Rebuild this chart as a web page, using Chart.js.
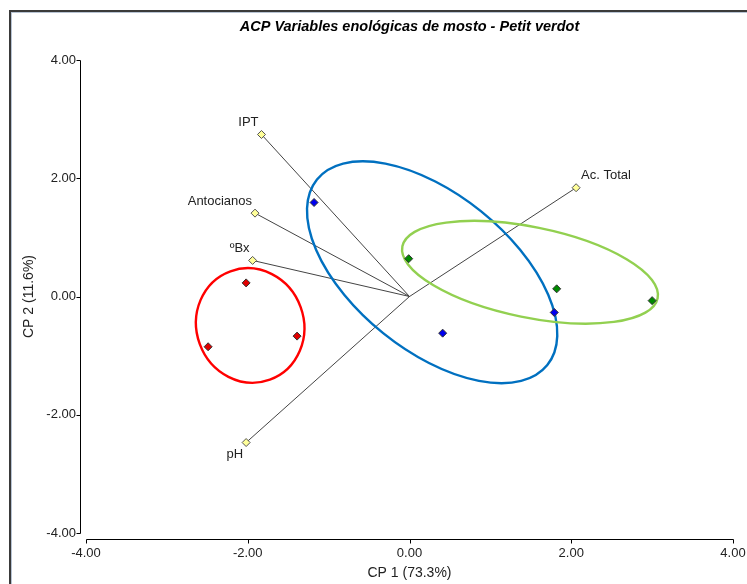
<!DOCTYPE html>
<html>
<head>
<meta charset="utf-8">
<script src="https://cdn.jsdelivr.net/npm/chart.js@4/dist/chart.umd.min.js"></script>
<style>
  html, body { margin: 0; padding: 0; background: #fff; }
  #wrap { width: 747px; height: 584px; position: relative; }
</style>
</head>
<body>
<div id="wrap"><canvas id="acp" width="747" height="584"></canvas></div>
<script>
// observaciones por grupo (CP 1, CP 2)
const rojoX = [-2.02, -2.49, -1.39];
const rojoY = [0.23, -0.85, -0.67];
const azulX = [-1.18, 1.79, 0.41];
const azulY = [1.59, -0.27, -0.62];
const verdeX = [-0.01, 1.82, 3.00];
const verdeY = [0.64, 0.13, -0.07];

// variables del biplot
const variables = ['IPT', 'Antocianos', 'ºBx', 'Ac. Total', 'pH'];
const varX = [-1.83, -1.91, -1.94, 2.06, -2.02];
const varY = [2.74, 1.41, 0.61, 1.84, -2.47];

// elipses (rojo, azul, verde): centro y dos semiejes conjugados, en unidades de CP
const elipseX = [-1.97, 0.28, 1.49];
const elipseY = [-0.49, 0.41, 0.41];
const elipseEje1 = [[0.244, -0.917], [1.424, -1.569], [1.578, -0.438]];
const elipseEje2 = [[-0.624, -0.311], [-0.606, -1.030], [-0.111, -0.750]];
const elipseColor = ['#ff0000', '#0070c0', '#92d050'];

const marcas = [-4, -2, 0, 2, 4];

const FONT = "'Liberation Sans', Arial, sans-serif";
const toXY = (xs, ys) => xs.map((v, i) => ({x: v, y: ys[i]}));

const obs = (data, color) => ({
  data,
  pointStyle: 'rectRot',
  pointRadius: 4,
  pointBackgroundColor: color,
  pointBorderColor: '#333',
  pointBorderWidth: 1,
  showLine: false
});

const vectores = variables.map((v, i) => ({
  data: [{x: 0, y: 0}, {x: varX[i], y: varY[i]}],
  showLine: true,
  borderColor: '#444',
  borderWidth: 1,
  pointStyle: 'rectRot',
  pointRadius: [0, 4],
  pointBackgroundColor: '#ffff99',
  pointBorderColor: '#555',
  pointBorderWidth: 1
}));

const marco = {
  id: 'marco',
  beforeDraw(chart) {
    const {ctx, width, height} = chart;
    ctx.save();
    ctx.fillStyle = '#fff';
    ctx.fillRect(0, 0, width, height);
    ctx.fillStyle = '#3a3a3a';
    ctx.fillRect(9, 10, width, 2);
    ctx.fillRect(9, 10, 2, height);
    ctx.fillStyle = '#b8c4d4';
    ctx.fillRect(11, 12, width, 1);
    ctx.fillRect(11, 12, 1, height);
    ctx.restore();
  }
};

const elipses = {
  id: 'elipses',
  afterDatasetDraw(chart, args) {
    if (args.index !== 3) return;
    const {ctx, scales: {x, y}} = chart;
    const sx = x.getPixelForValue(1) - x.getPixelForValue(0);
    const sy = y.getPixelForValue(1) - y.getPixelForValue(0);
    elipseX.forEach((cx, i) => {
      const u = elipseEje1[i], v = elipseEje2[i];
      ctx.save();
      ctx.beginPath();
      ctx.transform(u[0] * sx, u[1] * sy, v[0] * sx, v[1] * sy,
        x.getPixelForValue(cx), y.getPixelForValue(elipseY[i]));
      ctx.arc(0, 0, 1, 0, Math.PI * 2);
      ctx.restore();
      ctx.save();
      ctx.lineWidth = 2.4;
      ctx.strokeStyle = elipseColor[i];
      ctx.stroke();
      ctx.restore();
    });
  }
};

const etiquetas = {
  id: 'etiquetas',
  afterDatasetsDraw(chart) {
    const {ctx, scales: {x, y}} = chart;
    ctx.save();
    ctx.font = '13px ' + FONT;
    ctx.fillStyle = '#222';
    ctx.textBaseline = 'middle';
    variables.forEach((name, i) => {
      const px = x.getPixelForValue(varX[i]);
      const py = y.getPixelForValue(varY[i]);
      const derecha = varX[i] > 0;
      ctx.textAlign = derecha ? 'left' : 'right';
      const dy = varY[i] < -1 ? 12 : -12;
      ctx.fillText(name, px + (derecha ? 5 : -3), py + dy);
    });
    ctx.restore();
  }
};

const ejes = {
  id: 'ejes',
  afterDraw(chart) {
    const {ctx, chartArea: a, scales: {x, y}} = chart;
    ctx.save();
    ctx.strokeStyle = '#000';
    ctx.lineWidth = 1;
    ctx.beginPath();
    const ax = Math.round(a.left) - 6 + 0.5;
    const ay = Math.round(a.bottom) + 6 + 0.5;
    ctx.moveTo(ax, Math.round(y.getPixelForValue(4)) + 0.5);
    ctx.lineTo(ax, Math.round(y.getPixelForValue(-4)) + 0.5);
    ctx.moveTo(Math.round(x.getPixelForValue(-4)) + 0.5, ay);
    ctx.lineTo(Math.round(x.getPixelForValue(4)) + 0.5, ay);
    marcas.forEach(v => {
      const py = Math.round(y.getPixelForValue(v)) + 0.5;
      ctx.moveTo(ax - 4, py);
      ctx.lineTo(ax, py);
      const px = Math.round(x.getPixelForValue(v)) + 0.5;
      ctx.moveTo(px, ay);
      ctx.lineTo(px, ay + 4);
    });
    ctx.stroke();
    ctx.restore();
  }
};

new Chart(document.getElementById('acp'), {
  type: 'scatter',
  data: {
    datasets: [
      obs(toXY(rojoX, rojoY), '#e00000'),
      obs(toXY(azulX, azulY), '#0000ee'),
      obs(toXY(verdeX, verdeY), '#008a00'),
      ...vectores
    ]
  },
  options: {
    responsive: false,
    animation: false,
    devicePixelRatio: 1,
    layout: {padding: {top: 0, right: 14, bottom: 0, left: 0}},
    plugins: {
      legend: {display: false},
      tooltip: {enabled: false},
      title: {
        display: true,
        fullSize: false,
        text: 'ACP Variables enológicas de mosto - Petit verdot',
        color: '#000',
        font: {family: FONT, size: 14.5, weight: 'bold', style: 'italic'},
        padding: {top: 18, bottom: 24.6}
      }
    },
    scales: {
      x: {
        type: 'linear',
        min: -4, max: 4,
        afterFit(s) { s.height = 51; s.paddingLeft = 0; s.paddingRight = 13; },
        grid: {display: false, drawTicks: false},
        border: {display: false},
        ticks: {
          stepSize: 2,
          padding: 12.5,
          color: '#222',
          font: {family: FONT, size: 13},
          callback: v => v.toFixed(2)
        },
        title: {
          display: true,
          text: 'CP 1 (73.3%)',
          color: '#222',
          font: {family: FONT, size: 14},
          padding: {top: 0, bottom: 2.6}
        }
      },
      y: {
        type: 'linear',
        min: -4, max: 4,
        afterFit(s) { s.width = 86; },
        grid: {display: false, drawTicks: false},
        border: {display: false},
        ticks: {
          stepSize: 2,
          padding: 10,
          color: '#222',
          font: {family: FONT, size: 13},
          callback: v => v.toFixed(2)
        },
        title: {
          display: true,
          text: 'CP 2 (11.6%)',
          color: '#222',
          font: {family: FONT, size: 14},
          padding: {top: 20.6, bottom: 0}
        }
      }
    }
  },
  plugins: [marco, elipses, etiquetas, ejes]
});
</script>
</body>
</html>
